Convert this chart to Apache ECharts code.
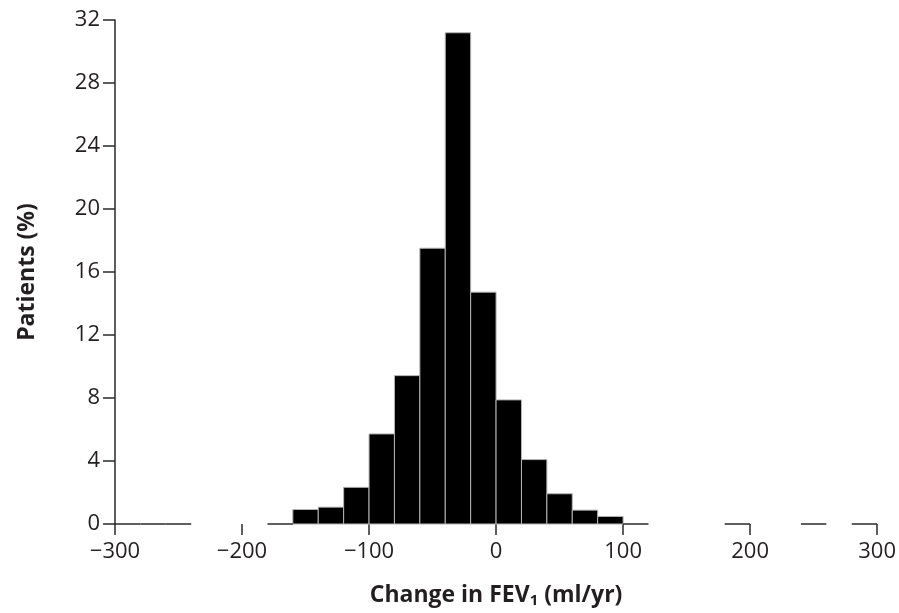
<!DOCTYPE html>
<html><head><meta charset="utf-8">
<script src="https://cdn.jsdelivr.net/npm/echarts@6/dist/echarts.min.js"></script>
<style>html,body{margin:0;padding:0;background:#fff}#c{width:899px;height:613px}</style>
</head><body><div id="c"></div>
<script>
const binWidth = 20;
const barBinStarts = [-160, -140, -120, -100, -80, -60, -40, -20, 0, 20, 40, 60, 80];
const barValues = [0.92, 1.07, 2.33, 5.72, 9.42, 17.51, 31.19, 14.72, 7.88, 4.09, 1.92, 0.88, 0.48];
const emptyBinStarts = [-300, -280, -260, -180, 100, 180, 240, 280];
const xMin = -300, xMax = 300, xStep = 100;
const yMin = 0, yMax = 32, yStep = 4;
const xTitle = 'Change in FEV';
const xTitleSub = '1';
const xTitleTail = ' (ml/yr)';
const yTitle = 'Patients (%)';

const binData = [];
barBinStarts.forEach((s, i) => binData.push([s, s + binWidth, barValues[i]]));
emptyBinStarts.forEach(s => binData.push([s, s + binWidth, 0]));

const FONT = 'Open Sans';
const TXT = '#231f20';
const fmt = v => v < 0 ? '\u2212' + (-v) : String(v);

function renderItem(params, api) {
  const p0 = api.coord([api.value(0), 0]);
  const p1 = api.coord([api.value(1), api.value(2)]);
  const v = api.value(2);
  if (v > 0) {
    return {type: 'rect', shape: {x: p0[0], y: p1[1], width: p1[0] - p0[0], height: p0[1] - p1[1]},
      style: {fill: '#000', stroke: '#b4b4b4', lineWidth: 1}};
  }
  return {type: 'line', shape: {x1: p0[0], y1: p0[1], x2: p1[0], y2: p0[1]},
    style: {stroke: '#2a2a2a', lineWidth: 1.5}};
}

const chart = echarts.init(document.getElementById('c'), null, {renderer: 'canvas'});
chart.setOption({
  animation: false,
  backgroundColor: '#fff',
  grid: {left: 115, right: 19, top: 20, bottom: 88.5, containLabel: false},
  xAxis: {
    type: 'value', min: xMin, max: xMax, interval: xStep,
    splitLine: {show: false},
    axisLine: {show: false, onZero: false},
    axisTick: {show: true, length: 11, lineStyle: {color: '#2a2a2a', width: 1.5}},
    axisLabel: {margin: 17, fontFamily: FONT, fontSize: 22, color: TXT, formatter: fmt},
    name: '{a|' + xTitle + '}{s|' + xTitleSub + '}{a|' + xTitleTail + '}',
    nameLocation: 'middle', nameGap: 58,
    nameTextStyle: {
      rich: {
        a: {fontFamily: FONT, fontWeight: 'bold', fontSize: 23, color: TXT, lineHeight: 26},
        s: {fontFamily: FONT, fontWeight: 'bold', fontSize: 15, color: TXT, lineHeight: 15, verticalAlign: 'bottom'}
      }
    }
  },
  yAxis: {
    type: 'value', min: yMin, max: yMax, interval: yStep,
    splitLine: {show: false},
    axisLine: {show: true, onZero: false, lineStyle: {color: '#2a2a2a', width: 1.5}},
    axisTick: {show: true, length: 12, lineStyle: {color: '#2a2a2a', width: 1.5}},
    axisLabel: {margin: 15, fontFamily: FONT, fontSize: 22, color: TXT, formatter: fmt},
    name: yTitle, nameLocation: 'middle', nameGap: 76,
    nameTextStyle: {fontFamily: FONT, fontWeight: 'bold', fontSize: 23, color: TXT}
  },
  series: [{
    type: 'custom', renderItem: renderItem, data: binData,
    encode: {x: [0, 1], y: 2}, clip: false
  }]
});
</script></body></html>
